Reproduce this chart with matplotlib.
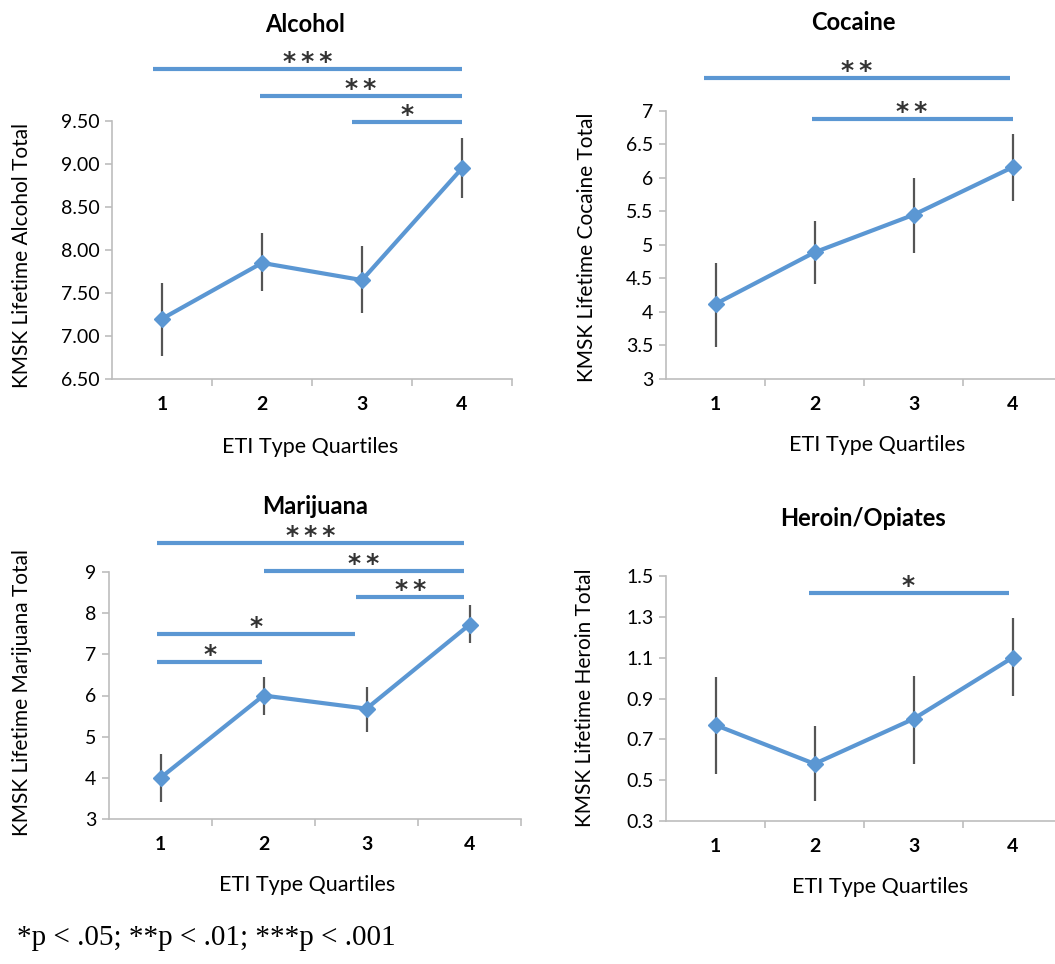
import matplotlib.pyplot as plt
import numpy as np

plt.rcParams['font.family'] = ['Lato', 'DejaVu Sans']

W, H = 1055, 964
BLUE = '#5b97d3'
GREY = '#bdbdbd'

quartiles = [1, 2, 3, 4]

# values (mean, upper and lower end of the error bar)
alcohol_mean = [7.20, 7.85, 7.65, 8.95]
alcohol_hi = [7.62, 8.20, 8.05, 9.30]
alcohol_lo = [6.77, 7.52, 7.27, 8.60]
alcohol_sig = [(0.91, 4.0, 10.10, '***'), (1.98, 4.0, 9.79, '**'), (2.90, 4.0, 9.49, '*')]

cocaine_mean = [4.12, 4.89, 5.45, 6.16]
cocaine_hi = [4.73, 5.36, 6.00, 6.66]
cocaine_lo = [3.48, 4.42, 4.88, 5.66]
cocaine_sig = [(0.88, 3.97, 7.49, '**'), (1.97, 4.0, 6.88, '**')]

marijuana_mean = [4.00, 6.00, 5.68, 7.72]
marijuana_hi = [4.58, 6.45, 6.20, 8.20]
marijuana_lo = [3.41, 5.52, 5.11, 7.27]
marijuana_sig = [(0.97, 3.95, 9.70, '***'), (2.0, 3.95, 9.02, '**'), (2.9, 3.95, 8.39, '**'),
                 (0.97, 2.89, 7.49, '*'), (0.97, 1.99, 6.81, '*')]

heroin_mean = [0.77, 0.58, 0.80, 1.10]
heroin_hi = [1.005, 0.765, 1.01, 1.295]
heroin_lo = [0.53, 0.40, 0.58, 0.91]
heroin_sig = [(1.94, 3.96, 1.418, '*')]


def px(x, y):
    return x / W, 1 - y / H


fig = plt.figure(figsize=(W / 100, H / 100), dpi=100)

panels = [
    # title, ylabel, data, y ticks, fmt, axes box in px (left, right, bottom, top), title xy, ylabel xy, xlabel xy
    ('Alcohol', 'KMSK Lifetime Alcohol Total',
     (alcohol_mean, alcohol_hi, alcohol_lo, alcohol_sig), np.arange(6.5, 9.51, 0.5), '%.2f',
     (112, 512, 379, 121), (305, 25), (22, 255), (310, 447)),
    ('Cocaine', 'KMSK Lifetime Cocaine Total',
     (cocaine_mean, cocaine_hi, cocaine_lo, cocaine_sig), np.arange(3, 7.01, 0.5), '%g',
     (666, 1062, 379, 111), (853, 22), (587, 247), (877, 445)),
    ('Marijuana', 'KMSK Lifetime Marijuana Total',
     (marijuana_mean, marijuana_hi, marijuana_lo, marijuana_sig), np.arange(3, 9.01, 1), '%d',
     (109, 521, 819, 572), (315, 507), (22, 693), (307, 885)),
    ('Heroin/Opiates', 'KMSK Lifetime Heroin Total',
     (heroin_mean, heroin_hi, heroin_lo, heroin_sig), np.arange(0.3, 1.51, 0.2), '%.1f',
     (666, 1062, 821, 576), (863, 518), (585, 698), (880, 887)),
]

for title, ylabel, (mean, hi, lo, sig), yt, fmt, box, t_xy, yl_xy, xl_xy in panels:
    l, r, b, t = box
    ax = fig.add_axes([l / W, 1 - b / H, (r - l) / W, (b - t) / H])
    mean = np.array(mean)
    yerr = [mean - np.array(lo), np.array(hi) - mean]
    ax.errorbar(quartiles, mean, yerr=yerr, fmt='none', ecolor='#555555', elinewidth=1.6, zorder=2)
    ax.plot(quartiles, mean, color=BLUE, lw=3, marker='D', ms=8, zorder=3)

    ax.set_xlim(0.5, 4.5)
    ax.set_ylim(yt[0], yt[-1])
    ax.set_yticks(yt)
    ax.set_yticklabels([fmt % v for v in yt], fontsize=14)
    ax.set_xticks(quartiles)
    ax.set_xticklabels([str(q) for q in quartiles], fontsize=14, fontweight='bold')
    ax.set_xticks([1.5, 2.5, 3.5, 4.5], minor=True)
    ax.tick_params(axis='x', which='major', length=0, pad=12)
    ax.tick_params(axis='x', which='minor', length=5, color=GREY, width=1.2)
    ax.tick_params(axis='y', length=5, color=GREY, width=1.2, pad=4)
    for s in ['top', 'right']:
        ax.spines[s].set_visible(False)
    for s in ['left', 'bottom']:
        ax.spines[s].set_color(GREY)
        ax.spines[s].set_linewidth(1.2)

    for x0, x1, y, lab in sig:
        ax.plot([x0, x1], [y, y], color=BLUE, lw=3, solid_capstyle='butt', clip_on=False, zorder=4)
        ax.annotate('\u2009'.join(lab), ((x0 + x1) / 2, y), xytext=(0, 5), textcoords='offset points',
                    ha='center', va='center', fontsize=18, fontweight='bold', color='#333333',
                    family='DejaVu Sans', annotation_clip=False)

    fig.text(*px(*t_xy), title, ha='center', va='center', fontsize=17, fontweight='bold')
    fig.text(*px(*yl_xy), ylabel, ha='center', va='center', rotation=90, fontsize=15)
    fig.text(*px(*xl_xy), 'ETI Type Quartiles', ha='center', va='center', fontsize=15.5)

fig.text(*px(17, 938), '*p < .05; **p < .01; ***p < .001', ha='left', va='center',
         fontsize=21, family=['Liberation Serif', 'DejaVu Serif'])

fig.savefig('out.png', dpi=100)
